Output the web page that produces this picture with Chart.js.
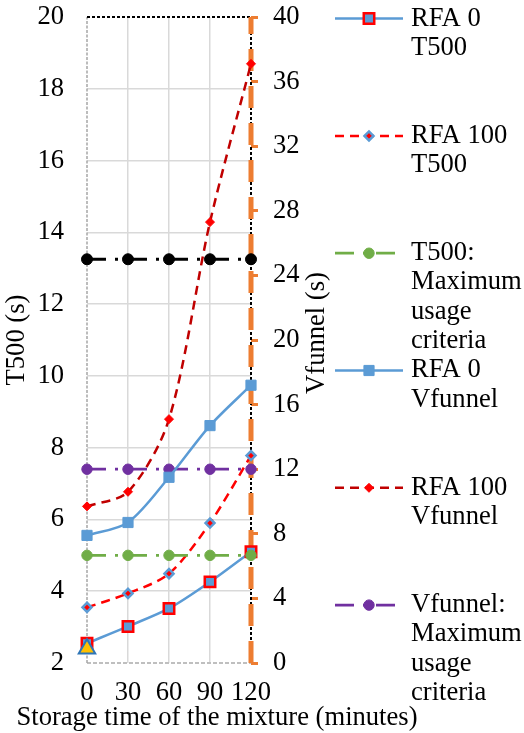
<!DOCTYPE html>
<html>
<head>
<meta charset="utf-8">
<title>T500 and Vfunnel x storage time</title>
<script src="https://cdn.jsdelivr.net/npm/chart.js@4.4.1/dist/chart.umd.min.js"></script>
<style>
    html, body { margin: 0; padding: 0; background: #fff; }
    #myChart { display: block; }
</style>
</head>
<body>
<canvas id="myChart" width="524" height="733"></canvas>
<script>
// values
const storageTimes = ['0', '30', '60', '90', '120'];
const rfa0T500 = [2.55, 3.02, 3.52, 4.26, 5.1];
const rfa100T500 = [3.55, 3.94, 4.49, 5.9, 7.78];
const t500Criteria = [5, 5, 5, 5, 5];
const rfa0Vfunnel = [7.9, 8.7, 11.5, 14.7, 17.2];
const rfa100Vfunnel = [9.7, 10.6, 15.1, 27.3, 37.1];
const vfunnelCriteria = [12, 12, 12, 12, 12];
const vfunnelUpperLimit = [25, 25, 25, 25, 25];
const startPoint = [2.4, null, null, null, null];

// axis ranges
const t500Axis = [2, 20, 2];     // min, max, step
const vfunnelAxis = [0, 40, 4];

const FONT = "'Liberation Serif', 'Times New Roman', serif";
const FONT_SIZE = 26.6;
const GRID = '#d9d9d9';
const ORANGE = '#ED7D31';

Chart.defaults.font.family = FONT;
Chart.defaults.font.size = FONT_SIZE;
Chart.defaults.color = '#000';

const dashDot = [19, 9, 3, 10];

const dataset = {
    labels: storageTimes,
    datasets: [
        {
            label: 'RFA 0 T500',
            legendLines: ['RFA 0', 'T500'],
            data: rfa0T500,
            yAxisID: 'y',
            borderColor: '#5B9BD5',
            borderWidth: 2.5,
            tension: 0.3,
            pointStyle: 'rect',
            pointRadius: 7.4,
            pointBackgroundColor: '#5B9BD5',
            pointBorderColor: '#FF0000',
            pointBorderWidth: 2.5,
            order: 3,
        },
        {
            label: 'RFA 100 T500',
            legendLines: ['RFA 100', 'T500'],
            data: rfa100T500,
            yAxisID: 'y',
            borderColor: '#FF0000',
            borderWidth: 2.5,
            borderDash: [9, 6],
            tension: 0.3,
            pointStyle: 'rectRot',
            pointRadius: 4.5,
            pointBackgroundColor: '#FF0000',
            pointBorderColor: '#5B9BD5',
            pointBorderWidth: 2.5,
            order: 4,
        },
        {
            label: 'T500: Maximum usage criteria',
            legendLines: ['T500:', 'Maximum', 'usage', 'criteria'],
            data: t500Criteria,
            yAxisID: 'y',
            borderColor: '#70AD47',
            borderWidth: 2.8,
            borderDash: dashDot,
            pointStyle: 'circle',
            pointRadius: 5.2,
            pointBackgroundColor: '#70AD47',
            pointBorderColor: '#70AD47',
            pointBorderWidth: 1,
            order: 2,
        },
        {
            label: 'RFA 0 Vfunnel',
            legendLines: ['RFA 0', 'Vfunnel'],
            data: rfa0Vfunnel,
            yAxisID: 'y1',
            borderColor: '#5B9BD5',
            borderWidth: 2.5,
            tension: 0.3,
            pointStyle: 'rect',
            pointRadius: 7.2,
            pointBackgroundColor: '#5B9BD5',
            pointBorderColor: '#5B9BD5',
            pointBorderWidth: 1,
            order: 1,
        },
        {
            label: 'RFA 100 Vfunnel',
            legendLines: ['RFA 100', 'Vfunnel'],
            data: rfa100Vfunnel,
            yAxisID: 'y1',
            borderColor: '#C00000',
            borderWidth: 2.5,
            borderDash: [9, 6],
            tension: 0.3,
            pointStyle: 'rectRot',
            pointRadius: 4.5,
            pointBackgroundColor: '#FF0000',
            pointBorderColor: '#FF0000',
            pointBorderWidth: 1,
            order: 5,
        },
        {
            label: 'Vfunnel: Maximum usage criteria',
            legendLines: ['Vfunnel:', 'Maximum', 'usage', 'criteria'],
            data: vfunnelCriteria,
            yAxisID: 'y1',
            borderColor: '#7030A0',
            borderWidth: 2.8,
            borderDash: dashDot,
            pointStyle: 'circle',
            pointRadius: 5.2,
            pointBackgroundColor: '#7030A0',
            pointBorderColor: '#7030A0',
            pointBorderWidth: 1,
            order: 6,
        },
        {
            label: 'Vfunnel upper limit',
            data: vfunnelUpperLimit,
            yAxisID: 'y1',
            borderColor: '#000',
            borderWidth: 2.8,
            borderDash: dashDot,
            pointStyle: 'circle',
            pointRadius: 5.5,
            pointBackgroundColor: '#000',
            pointBorderColor: '#000',
            pointBorderWidth: 1,
            order: 7,
        },
        {
            label: 'start',
            data: startPoint,
            yAxisID: 'y',
            showLine: false,
            pointStyle: 'triangle',
            pointRadius: 9.5,
            pointBackgroundColor: '#FFC000',
            pointBorderColor: '#2E75B6',
            pointBorderWidth: 2,
            order: 0,
        }
    ]
};

function dashedLine(ctx, x1, y1, x2, y2, color, width, dash) {
    ctx.save();
    ctx.strokeStyle = color;
    ctx.lineWidth = width;
    ctx.setLineDash(dash);
    ctx.beginPath();
    ctx.moveTo(x1, y1);
    ctx.lineTo(x2, y2);
    ctx.stroke();
    ctx.restore();
}

// frame lines, right title, x title and the legend (Excel style: line + marker)
const extrasPlugin = {
    id: 'extras',
    beforeDatasetsDraw(chart) {
        const {ctx, chartArea} = chart;
        const l = chartArea.left, r = chartArea.right, t = chartArea.top, b = chartArea.bottom;
        dashedLine(ctx, l, b, r, b, '#BFBFBF', 2.2, [4, 2]);      // bottom
        dashedLine(ctx, l, b, l, t, '#A6A6A6', 1.5, [3, 1.5]);    // left
        dashedLine(ctx, l, t, r, t, '#000', 1.8, [3, 2]);         // top
        dashedLine(ctx, r, t, r, b, '#000', 2, [3, 2]);           // right
        // secondary axis line, dashed from the bottom up
        dashedLine(ctx, r, b, r, t, ORANGE, 5, [22, 15]);
    },
    afterDraw(chart) {
        const ctx = chart.ctx;
        ctx.save();
        ctx.font = FONT_SIZE + 'px ' + FONT;
        ctx.fillStyle = '#000';
        ctx.textBaseline = 'middle';

        // x axis title
        ctx.textAlign = 'center';
        ctx.fillText('Storage time of the mixture (minutes)', 217, 718);

        // right axis title, reading upwards
        ctx.save();
        ctx.translate(317, 333);
        ctx.rotate(-Math.PI / 2);
        ctx.fillText('Vfunnel (s)', 0, 0);
        ctx.restore();

        // legend
        ctx.textAlign = 'left';
        let n = 0;
        chart.data.datasets.forEach(function(ds) {
            if (!ds.legendLines) return;
            let y = 18.6 + n * 117.3;
            dashedLine(ctx, 335, y, 403, y, ds.borderColor, ds.borderWidth, ds.borderDash || []);
            ctx.save();
            ctx.fillStyle = ds.pointBackgroundColor;
            ctx.strokeStyle = ds.pointBorderColor;
            ctx.lineWidth = ds.pointBorderWidth;
            Chart.helpers.drawPoint(ctx, {
                pointStyle: ds.pointStyle,
                radius: ds.pointRadius,
                rotation: 0,
                borderWidth: ds.pointBorderWidth
            }, 369, y);
            ctx.restore();
            ds.legendLines.forEach(function(t, j) {
                ctx.fillText(t, 411, y + j * 29.3);
            });
            n++;
        });
        ctx.restore();
    }
};

function noPadY(scale, width) {
    scale.width = width;
    scale.paddingTop = 0;
    scale.paddingBottom = 0;
}

function createChart(chartId, dataset) {
    let existingChart = Chart.getChart(chartId);
    if (existingChart) {
        existingChart.destroy();
    }

    let ctx = document.getElementById(chartId).getContext('2d');
    const config = {
        type: 'line',
        data: dataset,
        options: {
            responsive: false,
            animation: false,
            layout: {
                padding: {top: 17, right: 194, left: 0, bottom: 0}
            },
            datasets: {
                line: {clip: false, spanGaps: false}
            },
            plugins: {
                legend: {display: false},
                tooltip: {enabled: false}
            },
            scales: {
                x: {
                    offset: false,
                    grid: {
                        color: (c) => (c.index === 0 || c.index === storageTimes.length - 1) ? 'rgba(0,0,0,0)' : GRID,
                        lineWidth: 1.5,
                        drawTicks: false,
                        offset: false,
                    },
                    border: {display: false},
                    ticks: {autoSkip: false, maxRotation: 0, minRotation: 0, padding: 14},
                    afterFit: (scale) => { scale.height = 70; scale.paddingLeft = 0; scale.paddingRight = 0; }
                },
                y: {
                    type: 'linear',
                    position: 'left',
                    min: t500Axis[0],
                    max: t500Axis[1],
                    ticks: {stepSize: t500Axis[2], padding: 23},
                    grid: {
                        color: (c) => (c.tick.value === t500Axis[0] || c.tick.value === t500Axis[1]) ? 'rgba(0,0,0,0)' : GRID,
                        lineWidth: 1.5,
                        drawTicks: false,
                    },
                    border: {display: false},
                    title: {
                        display: true,
                        text: 'T500 (s)',
                        font: {size: FONT_SIZE, lineHeight: 1},
                        padding: {top: 4, bottom: 0}
                    },
                    afterFit: (scale) => noPadY(scale, 87)
                },
                y1: {
                    type: 'linear',
                    position: 'right',
                    min: vfunnelAxis[0],
                    max: vfunnelAxis[1],
                    ticks: {stepSize: vfunnelAxis[2], padding: 15},
                    grid: {
                        drawOnChartArea: false, // only the tick marks of this axis
                        drawTicks: true,
                        tickLength: 7,
                        tickWidth: 3,
                        tickColor: ORANGE,
                    },
                    border: {display: false},
                    afterFit: (scale) => noPadY(scale, 79)
                }
            }
        },
        plugins: [extrasPlugin]
    };
    new Chart(ctx, config);
}

createChart('myChart', dataset);
</script>
</body>
</html>
